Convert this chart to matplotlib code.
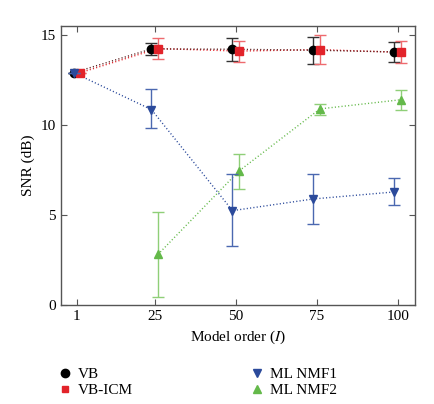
import numpy as np
import matplotlib
matplotlib.use('Agg')
import matplotlib.pyplot as plt
from matplotlib.lines import Line2D

plt.rcParams['font.family'] = ['Liberation Serif', 'DejaVu Serif']
plt.rcParams['mathtext.fontset'] = 'stix'

orders = [1, 25, 50, 75, 100]

vb = [12.9, 14.22, 14.2, 14.15, 14.05]
vb_err = [0.0, 0.33, 0.64, 0.75, 0.58]
icm = [12.9, 14.24, 14.1, 14.18, 14.03]
icm_err = [0.0, 0.57, 0.58, 0.79, 0.62]
nmf1 = [12.9, 10.85, 5.24, 5.89, 6.28]
nmf1_lo = [0.0, 1.0, 1.96, 1.37, 0.71]
nmf1_hi = [0.0, 1.13, 2.04, 1.39, 0.78]
nmf2_x = [25, 50, 75, 100]
nmf2 = [2.81, 7.44, 10.89, 11.4]
nmf2_lo = [2.39, 1.0, 0.32, 0.55]
nmf2_hi = [2.34, 0.93, 0.29, 0.52]

c_black = '#000000'
c_red = '#e2232a'
c_blue = '#2b4a9b'
c_green = '#64b94a'

fig = plt.figure(figsize=(4.34, 4.04), dpi=100)
ax = fig.add_axes([0.14, 0.245, 0.816, 0.691])

x = np.array(orders, dtype=float)
x2 = np.array(nmf2_x, dtype=float)
ms = 6

# dotted connecting lines
dots = (0.8, 1.6)
ax.plot(x - 1, nmf1, color=c_blue, lw=1, dashes=dots, zorder=1)
ax.plot(x2 + 1, nmf2, color=c_green, lw=1, dashes=dots, zorder=1)
ax.plot(x + 1, icm, color=c_red, lw=1, dashes=dots, zorder=1)
ax.plot(x - 1, vb, color='#5a1a1a', lw=1, dashes=dots, zorder=1)

ax.errorbar(x2 + 1, nmf2, yerr=[nmf2_lo, nmf2_hi], fmt='^', color=c_green,
            ecolor='#8fcf78', ms=ms, capsize=4, elinewidth=1, zorder=2)
ax.errorbar(x - 1, vb, yerr=vb_err, fmt='o', color=c_black,
            ecolor='#333333', ms=ms, capsize=4, elinewidth=1, zorder=3)
ax.errorbar(x + 1, icm, yerr=icm_err, fmt='s', color=c_red,
            ecolor='#ee6a6e', ms=ms - 0.5, capsize=4, elinewidth=1, zorder=3)
ax.errorbar(x - 1, nmf1, yerr=[nmf1_lo, nmf1_hi], fmt='v', color=c_blue,
            ecolor='#4b68b0', ms=ms, capsize=4, elinewidth=1, zorder=4)

ax.set_xlim(-4, 105.3)
ax.set_ylim(0, 15.5)
ax.set_xticks(orders)
ax.set_yticks([0, 5, 10, 15])
ax.tick_params(direction='in', top=True, right=True, labelsize=11,
               length=4, color='#555555')
for s in ax.spines.values():
    s.set_color('#555555')
    s.set_linewidth(1)
ax.set_xlabel('Model order ($I$)', fontsize=11)
ax.set_ylabel('SNR (dB)', fontsize=11)

handles = [
    Line2D([], [], ls='none', marker='o', color=c_black, ms=6),
    Line2D([], [], ls='none', marker='s', color=c_red, ms=5),
    Line2D([], [], ls='none', marker='v', color=c_blue, ms=6),
    Line2D([], [], ls='none', marker='^', color=c_green, ms=6),
]
labels = ['VB', 'VB-ICM', 'ML NMF1', 'ML NMF2']
fig.legend(handles, labels, ncol=2, frameon=False, fontsize=11,
           loc='upper left', bbox_to_anchor=(0.1325, 0.09),
           handlelength=1.0, handletextpad=0.36,
           columnspacing=7.6, labelspacing=0.15, borderaxespad=0,
           borderpad=0)

fig.savefig('out.png', dpi=100)
